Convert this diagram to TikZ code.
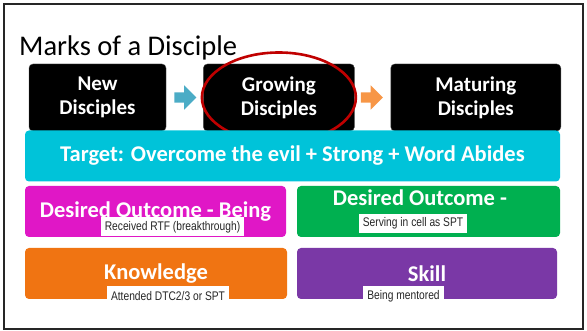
\documentclass[tikz,border=0pt]{standalone}
\usepackage{fontspec}
\setmainfont{Carlito}
\newfontfamily\tagfont[FakeStretch=0.82]{Liberation Sans}
\usepackage{tikz}
\usetikzlibrary{positioning, shapes.arrows}

\definecolor{targetcyan}{HTML}{00C3D9}
\definecolor{beingpink}{HTML}{E017C6}
\definecolor{servegreen}{HTML}{00B050}
\definecolor{knoworange}{HTML}{F07412}
\definecolor{skillpurple}{HTML}{7A38A6}
\definecolor{stepblue}{HTML}{4BACC6}
\definecolor{steporange}{HTML}{F79646}
\definecolor{ringred}{HTML}{C00000}

\begin{document}
\begin{tikzpicture}[x=1pt, y=-1pt,
    stage/.style={rectangle, rounded corners=4pt, fill=black, draw=black!70, text=white,
        font=\bfseries\fontsize{21}{24}\selectfont, align=center, minimum height=67pt, inner sep=0pt},
    panel/.style={rectangle, rounded corners=4pt, text=white,
        font=\bfseries\fontsize{22.5}{24}\selectfont, minimum height=51pt, inner sep=0pt},
    tag/.style={rectangle, fill=white, text=black!85, font=\tagfont\fontsize{12.5}{13}\selectfont,
        minimum height=19pt, inner sep=0pt},
    fatarrow/.style={single arrow, minimum height=22pt, inner sep=5pt,
        single arrow head extend=7pt}]
    \useasboundingbox (0,0) rectangle (587,331);
    \draw[line width=1.6pt, black!85] (4,4) rectangle (583,329);

    \node[anchor=base west, font=\fontsize{28.5}{30}\selectfont, inner sep=0pt](title) at (19,56){Marks of a Disciple};

    \node[stage, minimum width=137pt](new) at (97.5,97.5){New\\Disciples};
    \node[stage, minimum width=151pt](growing)[right = 37pt of new]{Growing\\Disciples};
    \node[stage, minimum width=170pt](maturing)[right = 36pt of growing]{Maturing\\Disciples};

    \node[fatarrow, fill=stepblue](step1)[right = 8pt of new]{};
    \node[fatarrow, fill=steporange](step2)[right = 6pt of growing]{};

    \draw[ringred, line width=2.6pt] (growing.center) ellipse [x radius=77, y radius=45];

    \node[panel, fill=targetcyan, minimum width=535pt](target) at (292.5,156){Target: Overcome the evil + Strong + Word Abides};

    \node[panel, fill=beingpink, minimum width=261pt](being) at (155.5,211.5){Desired Outcome - Being};
    \node[panel, fill=servegreen, minimum width=263pt](serving) at (428.5,211.5){};
    \node[text=white, font=\bfseries\fontsize{22.5}{24}\selectfont, inner sep=0pt](servingtext) at (420,198){Desired Outcome -};

    \node[panel, fill=knoworange, minimum width=262pt](knowledge) at (156,273.5){Knowledge};
    \node[panel, fill=skillpurple, minimum width=260pt](skill) at (427,273.5){Skill};

    \node[tag, minimum width=143pt](rtf) at (172.5,227){Received RTF (breakthrough)};
    \node[tag, minimum width=108pt](cell) at (413,223.5){Serving in cell as SPT};
    \node[tag, minimum width=122pt](dtc) at (168,296){Attended DTC2/3 or SPT};
    \node[tag, minimum width=81pt](mentor) at (403.5,296){Being mentored};
\end{tikzpicture}
\end{document}
